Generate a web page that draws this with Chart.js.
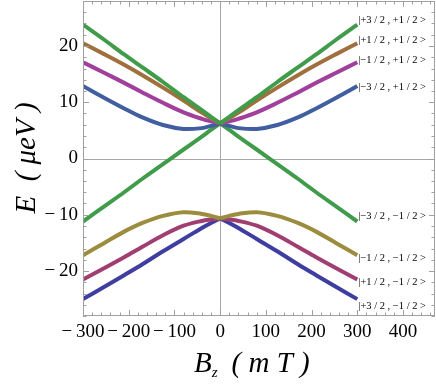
<!DOCTYPE html>
<html>
<head>
<meta charset="utf-8">
<script src="https://cdn.jsdelivr.net/npm/chart.js@4/dist/chart.umd.min.js"></script>
<style>
  html, body { margin: 0; padding: 0; background: #fff; }
  canvas { display: block; }
</style>
</head>
<body>
<canvas id="zeeman-chart" width="436" height="385"></canvas>
<script>
const bz = [-300, -255, -210, -170, -125, -80, -40, -20, 0, 20, 40, 80, 125, 170, 210, 255, 300];

// energies (ueV) for each state
const e_p32_p12 = [23.8, 21.2, 18.5, 16.2, 13.6, 10.9, 8.6, 7.4, 6.25, 7.4, 8.6, 10.9, 13.6, 16.2, 18.5, 21.2, 23.8];
const e_p12_p12 = [20.5, 18.6, 16.65, 14.8, 12.6, 10.3, 8.15, 7.15, 6.25, 7.15, 8.15, 10.3, 12.6, 14.8, 16.65, 18.6, 20.5];
const e_m12_p12 = [17.1, 15.3, 13.45, 11.75, 9.9, 8.2, 7.05, 6.6, 6.25, 6.6, 7.05, 8.2, 9.9, 11.75, 13.45, 15.3, 17.1];
const e_m32_p12 = [12.9, 10.85, 8.9, 7.3, 5.95, 5.25, 5.4, 5.8, 6.25, 5.8, 5.4, 5.25, 5.95, 7.3, 8.9, 10.85, 12.9];
const e_m32_m12 = [-11.2, -8.6, -6.0, -3.6, -1.0, 1.6, 3.9, 5.1, 6.25, 5.1, 3.9, 1.6, -1.0, -3.6, -6.0, -8.6, -11.2];
const e_m12_m12 = [-17.2, -15.1, -13.0, -11.45, -10.2, -9.55, -9.85, -10.2, -10.65, -10.2, -9.85, -9.55, -10.2, -11.45, -13.0, -15.1, -17.2];
const e_p12_m12 = [-21.5, -19.55, -17.55, -15.7, -13.65, -11.95, -11.1, -10.85, -10.65, -10.85, -11.1, -11.95, -13.65, -15.7, -17.55, -19.55, -21.5];
const e_p32_m12 = [-25.0, -22.9, -20.75, -18.8, -16.5, -14.3, -12.35, -11.45, -10.65, -11.45, -12.35, -14.3, -16.5, -18.8, -20.75, -22.9, -25.0];

const stateNames = [
    '|+3 / 2 , +1 / 2 >', '|+1 / 2 , +1 / 2 >', '|\u22121 / 2 , +1 / 2 >', '|\u22123 / 2 , +1 / 2 >',
    '|\u22123 / 2 , \u22121 / 2 >', '|\u22121 / 2 , \u22121 / 2 >', '|+1 / 2 , \u22121 / 2 >', '|+3 / 2 , \u22121 / 2 >'
];

const xTicks = [-300, -200, -100, 0, 100, 200, 300, 400];
const yTicks = [-20, -10, 0, 10, 20];

// styling
const series = [e_p32_p12, e_p12_p12, e_m12_p12, e_m32_p12, e_m32_m12, e_m12_m12, e_p12_m12, e_p32_m12];
const colors = [
    'rgb(64,156,74)', 'rgb(160,112,60)', 'rgb(160,64,156)', 'rgb(64,94,160)',
    'rgb(64,156,74)', 'rgb(156,140,62)', 'rgb(160,62,114)', 'rgb(62,62,160)'
];
const labelShift = [-4.5, -2.5, -1.6, 1.3, -5.5, 3, 3.3, 7];
const serif = '"Liberation Serif", "DejaVu Serif", serif';
const frameColor = '#a0a0a0';

function fmt(v) {
    return v < 0 ? '\u2212\u2009' + Math.abs(v) : String(v);
}

// split each curve at B = 0 so the cusp stays sharp
const datasets = [];
series.forEach(function(vals, i) {
    const left = [], right = [];
    bz.forEach(function(b, k) {
        if (b <= 0) left.push({ x: b, y: vals[k] });
        if (b >= 0) right.push({ x: b, y: vals[k] });
    });
    [left, right].forEach(function(pts) {
        datasets.push({
            data: pts,
            showLine: true,
            borderColor: colors[i],
            backgroundColor: colors[i],
            borderWidth: 4,
            pointRadius: 0,
            tension: 0.35
        });
    });
});

const framePlugin = {
    id: 'frame',
    beforeDatasetsDraw(chart) {
        const ctx = chart.ctx, a = chart.chartArea;
        const xs = chart.scales.x, ys = chart.scales.y;
        ctx.save();
        ctx.strokeStyle = '#a8a8a8';
        ctx.lineWidth = 1;
        const x0 = Math.round(xs.getPixelForValue(0)) + 0.5;
        const y0 = Math.round(ys.getPixelForValue(0)) + 0.5;
        ctx.beginPath();
        ctx.moveTo(x0, a.top); ctx.lineTo(x0, a.bottom);
        ctx.moveTo(a.left, y0); ctx.lineTo(a.right, y0);
        ctx.stroke();
        ctx.restore();
    },
    afterDraw(chart) {
        const ctx = chart.ctx, a = chart.chartArea;
        const xs = chart.scales.x, ys = chart.scales.y;
        ctx.save();
        ctx.strokeStyle = frameColor;
        ctx.lineWidth = 1;
        ctx.strokeRect(a.left + 0.5, a.top + 0.5, a.right - a.left - 1, a.bottom - a.top - 1);

        ctx.beginPath();
        for (let v = -300; v <= 470; v += 20) {
            const px = Math.round(xs.getPixelForValue(v)) + 0.5;
            const len = v % 100 === 0 ? 6 : 3.5;
            ctx.moveTo(px, a.bottom); ctx.lineTo(px, a.bottom - len);
            ctx.moveTo(px, a.top); ctx.lineTo(px, a.top + len);
        }
        for (let v = -28; v <= 28; v += 2) {
            const py = Math.round(ys.getPixelForValue(v)) + 0.5;
            const len = v % 10 === 0 ? 6 : 3.5;
            ctx.moveTo(a.left, py); ctx.lineTo(a.left + len, py);
            ctx.moveTo(a.right, py); ctx.lineTo(a.right - len, py);
        }
        ctx.stroke();

        // state labels at the right end of each curve
        ctx.fillStyle = '#000';
        ctx.font = '10.5px ' + serif;
        ctx.textAlign = 'left';
        ctx.textBaseline = 'middle';
        const xEnd = xs.getPixelForValue(bz[bz.length - 1]);
        series.forEach(function(vals, i) {
            const py = ys.getPixelForValue(vals[vals.length - 1]) + labelShift[i];
            ctx.fillText(stateNames[i], xEnd + 1, py);
        });

        // axis titles
        ctx.fillStyle = '#000';
        ctx.textBaseline = 'alphabetic';
        ctx.save();
        ctx.translate(35, 158);
        ctx.rotate(-Math.PI / 2);
        ctx.textAlign = 'center';
        ctx.font = 'italic 29px ' + serif;
        ctx.fillText('E  ( \u03bceV )', 0, 0);
        ctx.restore();

        let x = 194;
        const base = 372;
        ctx.textAlign = 'left';
        ctx.font = 'italic 29px ' + serif;
        ctx.fillText('B', x, base);
        x += ctx.measureText('B').width;
        ctx.font = 'italic 15px ' + serif;
        ctx.fillText('z', x, base + 5);
        x += ctx.measureText('z').width + 14;
        ctx.font = 'italic 29px ' + serif;
        ctx.fillText('( m T )', x, base);
        ctx.restore();
    }
};

new Chart(document.getElementById('zeeman-chart').getContext('2d'), {
    type: 'scatter',
    data: { datasets: datasets },
    options: {
        responsive: false,
        animation: false,
        devicePixelRatio: 1,
        layout: { padding: { top: 1, right: 1, left: 0, bottom: 0 } },
        plugins: { legend: { display: false }, tooltip: { enabled: false } },
        scales: {
            x: {
                type: 'linear',
                min: -300,
                max: 470,
                grid: { display: false, drawTicks: false },
                border: { display: false },
                afterBuildTicks: function(scale) { scale.ticks = xTicks.map(v => ({ value: v })); },
                afterFit: function(scale) {
                    scale.height = 69;
                    scale.paddingLeft = 0;
                    scale.paddingRight = 0;
                },
                ticks: {
                    padding: 5,
                    color: '#000',
                    maxRotation: 0,
                    autoSkip: false,
                    font: { family: serif, size: 19 },
                    callback: v => fmt(v)
                }
            },
            y: {
                min: -28,
                max: 28,
                grid: { display: false, drawTicks: false },
                border: { display: false },
                afterBuildTicks: function(scale) { scale.ticks = yTicks.map(v => ({ value: v })); },
                afterFit: function(scale) {
                    scale.width = 83;
                    scale.paddingTop = 0;
                    scale.paddingBottom = 0;
                },
                ticks: {
                    padding: 5,
                    color: '#000',
                    font: { family: serif, size: 19 },
                    callback: v => fmt(v)
                }
            }
        }
    },
    plugins: [framePlugin]
});
</script>
</body>
</html>
